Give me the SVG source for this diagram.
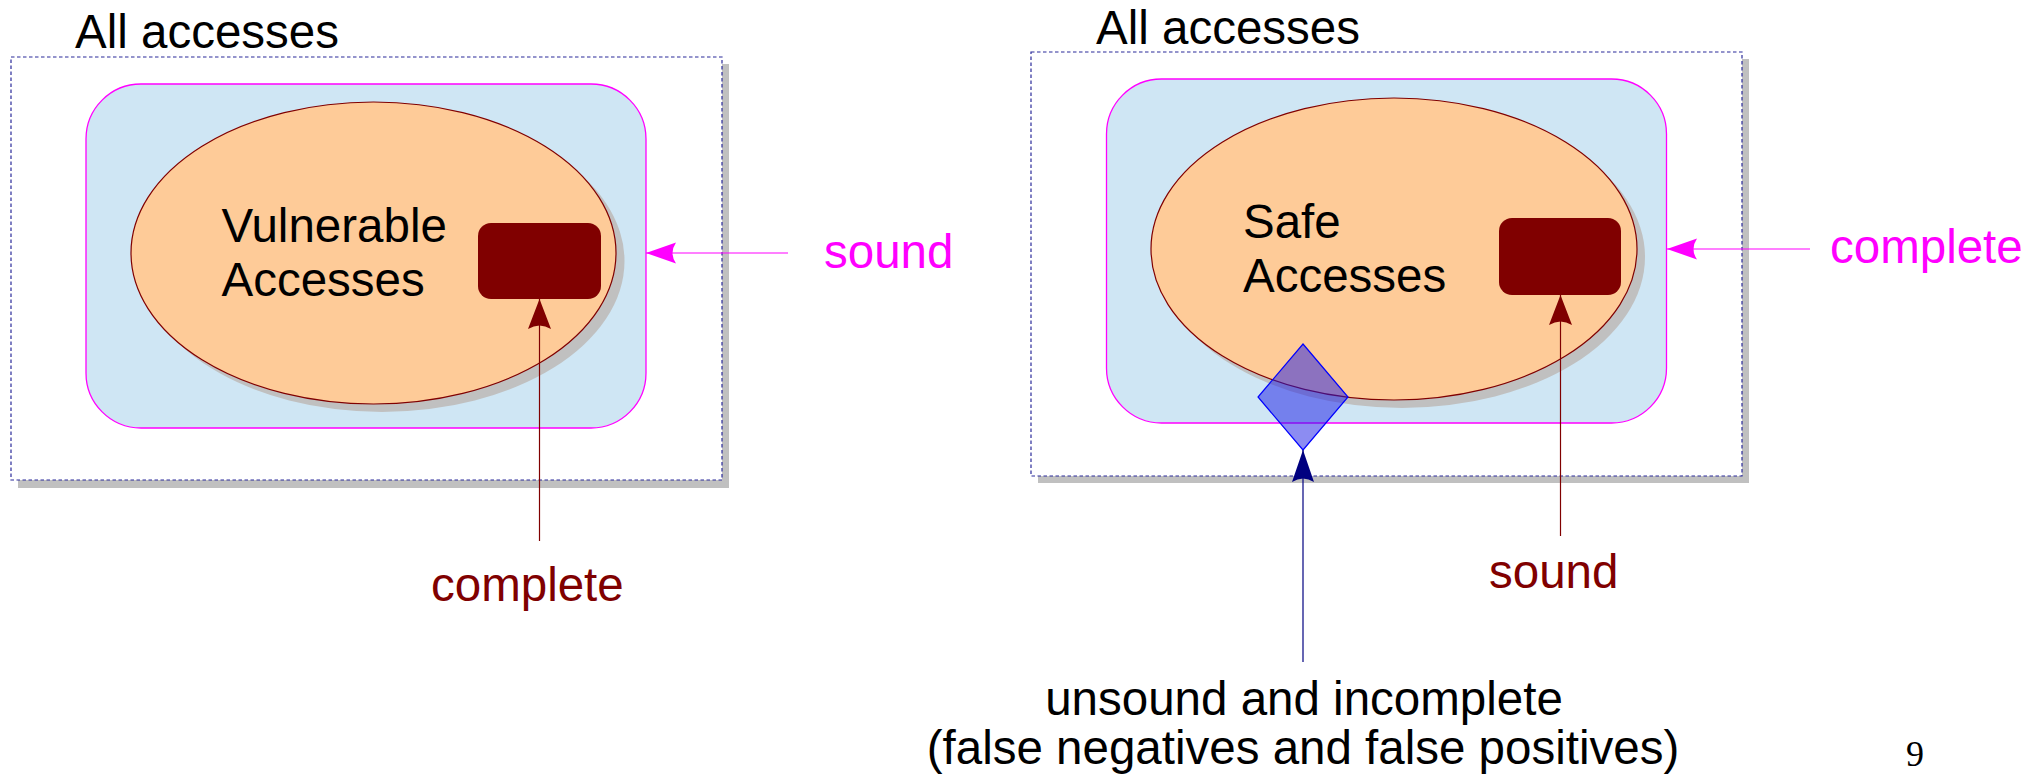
<svg xmlns="http://www.w3.org/2000/svg" width="2026" height="775" viewBox="0 0 2026 775">
<style>
text { font-family: "Liberation Sans", Arial, sans-serif; font-size: 47.5px; }
.blk { fill: #000000; }
.mag { fill: #ff00ff; }
.red { fill: #800000; }
.frame { fill: #ffffff; stroke: #2a2a9a; stroke-width: 1.2; stroke-dasharray: 3.5 2.5; }
.fshadow { fill: #c0c0c0; }
.set { fill: #cfe6f4; stroke: #ff00ff; stroke-width: 1.3; }
.ell { fill: #fecb98; stroke: #800000; stroke-width: 1.2; }
.eshadow { fill: #c0c0c0; }
.box { fill: #800000; }
.diamond { fill: #1a1ae6; fill-opacity: 0.5; stroke: #0000ff; stroke-width: 1.2; }
.cm { stroke: #ff00ff; stroke-width: 1.2; fill: none; }
.cr { stroke: #800000; stroke-width: 1.2; fill: none; }
.cn { stroke: #000080; stroke-width: 1.2; fill: none; }
</style>
<defs>
<marker id="ahM" markerUnits="userSpaceOnUse" viewBox="0 -12 30 24" refX="30" refY="0" markerWidth="30" markerHeight="24" orient="auto">
<path d="M30,0 L0,-10.5 Q7,0 0,10.5 Z" fill="#ff00ff"/>
</marker>
<marker id="ahR" markerUnits="userSpaceOnUse" viewBox="0 -12 30 24" refX="30" refY="0" markerWidth="30" markerHeight="24" orient="auto">
<path d="M30,0 L0,-11.5 Q7,0 0,11.5 Z" fill="#800000"/>
</marker>
<marker id="ahN" markerUnits="userSpaceOnUse" viewBox="0 -12 32 24" refX="32" refY="0" markerWidth="32" markerHeight="24" orient="auto">
<path d="M32,0 L0,-11 Q7,0 0,11 Z" fill="#000080"/>
</marker>
</defs>

<g id="left-all-accesses">
<rect class="fshadow" x="18" y="64" width="711" height="424"/>
<rect class="frame" x="11" y="57" width="711" height="423"/>
<text class="blk" x="75" y="48">All accesses</text>
</g>
<g id="left-set">
<rect class="set" x="86" y="84" width="560" height="344" rx="55" ry="55"/>
</g>
<g id="left-vulnerable">
<ellipse class="eshadow" cx="382" cy="261" rx="242.5" ry="151"/>
<ellipse class="ell" cx="373.5" cy="253" rx="242.5" ry="151"/>
<text class="blk" x="221.5" y="242">Vulnerable</text>
<text class="blk" x="221.5" y="296">Accesses</text>
</g>
<g id="left-box">
<rect class="box" x="478" y="223" width="123" height="76" rx="13" ry="13"/>
</g>

<g id="right-all-accesses">
<rect class="fshadow" x="1038" y="59" width="711" height="424"/>
<rect class="frame" x="1031" y="52" width="711" height="424"/>
<text class="blk" x="1096" y="44">All accesses</text>
</g>
<g id="right-set">
<rect class="set" x="1106.5" y="79" width="560" height="344" rx="55" ry="55"/>
</g>
<g id="right-safe">
<ellipse class="eshadow" cx="1402" cy="257" rx="243" ry="151"/>
<ellipse class="ell" cx="1394" cy="249" rx="243" ry="151"/>
<text class="blk" x="1243" y="238">Safe</text>
<text class="blk" x="1243" y="292">Accesses</text>
</g>
<g id="right-box">
<rect class="box" x="1499" y="218" width="122" height="77" rx="13" ry="13"/>
</g>
<g id="diamond">
<polygon class="diamond" points="1303,344 1348,397 1303,450 1258,397"/>
</g>

<g id="connectors">
<line class="cm" x1="788" y1="253" x2="646" y2="253" marker-end="url(#ahM)"/>
<line class="cr" x1="539.5" y1="541" x2="539.5" y2="299" marker-end="url(#ahR)"/>
<line class="cm" x1="1810" y1="249" x2="1667" y2="249" marker-end="url(#ahM)"/>
<line class="cr" x1="1560.5" y1="536" x2="1560.5" y2="295" marker-end="url(#ahR)"/>
<line class="cn" x1="1303" y1="662" x2="1303" y2="450" marker-end="url(#ahN)"/>
</g>

<g id="labels">
<text class="mag" x="824" y="268">sound</text>
<text class="red" x="431" y="601">complete</text>
<text class="mag" x="1830" y="263">complete</text>
<text class="red" x="1489" y="588">sound</text>
<text class="blk" x="1304" y="715" text-anchor="middle">unsound and incomplete</text>
<text class="blk" x="1303" y="764" text-anchor="middle">(false negatives and false positives)</text>
<text x="1915" y="766" text-anchor="middle" style="font-family: 'Liberation Serif', 'Times New Roman', serif; font-size: 36px; fill: #000;">9</text>
</g>
</svg>
